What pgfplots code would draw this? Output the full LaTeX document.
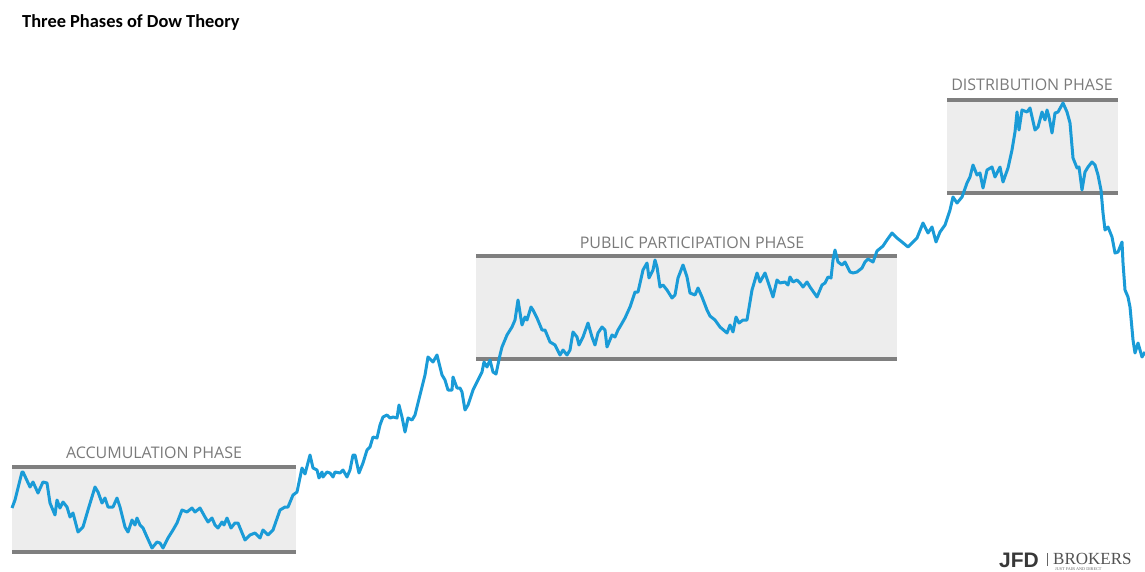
\documentclass[border=0pt]{standalone}
\usepackage{fontspec}
\setmainfont{Carlito}
\newfontfamily\labfont{Open Sans}
\newfontfamily\arialf{Liberation Sans}
\newfontfamily\timesf{Liberation Serif}
\usepackage{pgfplots}
\pgfplotsset{compat=1.18}
\definecolor{lineblue}{HTML}{1A9BD7}
\definecolor{boxfill}{HTML}{EDEDED}
\definecolor{boxline}{HTML}{7F7F7F}
\definecolor{labgray}{HTML}{7A7A7A}
\begin{document}
\begin{tikzpicture}
\begin{axis}[
  width=1145pt, height=572pt, scale only axis,
  xmin=0, xmax=1145, ymin=0, ymax=572, y dir=reverse,
  hide axis, clip=false,
]
% phase boxes
\addplot[fill=boxfill, draw=none] coordinates {(12,467) (296,467) (296,552) (12,552)} -- cycle;
\addplot[fill=boxfill, draw=none] coordinates {(476,256) (897,256) (897,359) (476,359)} -- cycle;
\addplot[fill=boxfill, draw=none] coordinates {(947,100) (1118,100) (1118,193) (947,193)} -- cycle;
\addplot[boxline, line width=3.5pt] coordinates {(12,467) (296,467)};
\addplot[boxline, line width=3.5pt] coordinates {(12,552) (296,552)};
\addplot[boxline, line width=3.5pt] coordinates {(476,256) (897,256)};
\addplot[boxline, line width=3.5pt] coordinates {(476,359) (897,359)};
\addplot[boxline, line width=3.5pt] coordinates {(947,100) (1118,100)};
\addplot[boxline, line width=3.5pt] coordinates {(947,193) (1118,193)};
% price line
\addplot[lineblue, line width=3pt, line join=round] coordinates {
(12,508)(15,500)(22,472)(23,472)(30,487)(33,482)(38,493)(43,482)(47,483)(50,503)
(55,515)(57,500)(60,508)(63,502)(67,507)(70,517)(73,513)(78,532)(83,527)(88,510)
(95,487)(98,492)(102,503)(105,498)(108,507)(113,507)(117,498)(120,507)(125,527)(128,532)
(132,520)(135,525)(137,518)(140,525)(143,528)(147,537)(152,548)(157,542)(160,543)(163,548)
(168,538)(173,530)(177,523)(182,510)(187,512)(192,508)(195,512)(200,508)(205,517)(208,522)
(212,518)(215,525)(218,528)(222,522)(224,525)(227,518)(231,528)(235,523)(238,523)(245,540)
(250,535)(255,533)(260,538)(263,530)(268,535)(273,530)(280,510)(285,507)(288,507)(293,495)
(297,492)(302,468)(305,474)(310,455)(313,468)(317,470)(319,478)(322,472)(323,477)(327,472)
(330,473)(333,477)(335,472)(340,473)(343,470)(347,477)(350,470)(353,455)(355,455)(359,473)
(363,463)(367,450)(370,447)(373,437)(377,438)(380,425)(383,417)(387,415)(390,418)(393,417)
(397,418)(399,405)(402,417)(405,432)(408,418)(412,420)(415,415)(418,403)(422,387)(425,375)
(428,357)(433,362)(437,355)(442,375)(445,380)(448,390)(452,390)(453,377)(457,388)(460,388)
(462,392)(465,410)(468,405)(473,390)(478,380)(482,372)(484,362)(487,367)(490,360)(493,372)
(496,374)(500,355)(502,347)(507,335)(512,327)(515,320)(518,300)(522,325)(525,317)(527,320)
(531,307)(533,310)(537,318)(542,330)(545,330)(550,342)(555,345)(560,355)(563,350)(567,355)
(570,350)(573,332)(577,337)(579,345)(583,337)(588,323)(592,337)(595,345)(598,333)(602,327)
(605,330)(607,347)(612,335)(615,337)(618,330)(621,325)(625,318)(630,307)(635,292)(638,292)
(643,270)(647,263)(649,278)(653,270)(655,260)(657,267)(660,287)(663,285)(667,290)(672,298)
(675,295)(678,278)(683,265)(687,277)(690,293)(695,295)(698,288)(702,297)(707,310)(710,316)
(715,320)(720,327)(727,333)(730,325)(733,332)(736,317)(739,323)(743,320)(747,320)(752,290)
(757,273)(760,282)(765,273)(770,288)(773,297)(777,280)(780,283)(785,282)(788,285)(790,277)
(793,282)(797,280)(800,283)(803,287)(807,282)(810,287)(817,297)(822,285)(825,283)(828,277)
(831,278)(833,260)(835,250)(838,262)(842,265)(845,262)(850,272)(853,273)(857,272)(862,268)
(865,262)(868,259)(873,262)(877,251)(883,246)(887,240)(892,233)(897,238)(902,242)(908,247)
(917,238)(923,223)(928,233)(932,227)(936,242)(940,232)(945,225)(950,210)(953,197)(957,203)
(962,197)(967,183)(970,177)(973,165)(977,175)(980,173)(983,188)(987,170)(992,167)(995,177)
(1000,167)(1003,182)(1008,168)(1012,150)(1015,132)(1017,112)(1019,130)(1022,110)(1027,112)(1030,108)
(1035,130)(1038,127)(1042,112)(1045,120)(1047,110)(1049,117)(1052,133)(1055,113)(1058,112)(1063,103)
(1067,112)(1070,123)(1073,158)(1077,168)(1079,167)(1082,190)(1085,172)(1088,167)(1092,162)(1095,165)
(1098,175)(1101,190)(1103,213)(1105,230)(1108,227)(1112,237)(1115,253)(1118,252)(1122,242)(1123,263)
(1125,290)(1128,297)(1130,307)(1133,340)(1135,353)(1138,343)(1142,357)(1145,352)
};
% labels
\node[labgray, font=\labfont\fontsize{16}{18}\selectfont, anchor=base] at (axis cs:154,458) {ACCUMULATION PHASE};
\node[labgray, font=\labfont\fontsize{16}{18}\selectfont, anchor=base] at (axis cs:692,248) {PUBLIC PARTICIPATION PHASE};
\node[labgray, font=\labfont\fontsize{16}{18}\selectfont, anchor=base] at (axis cs:1032,91) {DISTRIBUTION PHASE};
% title
\node[font=\bfseries\fontsize{18.4}{20}\selectfont, anchor=base west, inner sep=0pt] at (axis cs:22,28) {Three Phases of Dow Theory};
% logo
\node[font=\arialf\bfseries\fontsize{21}{22}\selectfont, text=black!78, anchor=base east, inner sep=0pt] at (axis cs:1039,567) {JFD};
\node[font=\timesf\fontsize{17}{18}\selectfont, text=black!68, anchor=base west, inner sep=0pt] at (axis cs:1053,564) {BROKERS};
\node[font=\timesf\fontsize{4.2}{5}\selectfont, text=black!60, anchor=base west, inner sep=0pt] at (axis cs:1055,570) {JUST FAIR AND DIRECT};
\addplot[black!60, line width=0.8pt] coordinates {(1047,553)(1047,566)};
\end{axis}
\pgfresetboundingbox
\path (current axis.south west) rectangle (current axis.north east);
\end{tikzpicture}
\end{document}
